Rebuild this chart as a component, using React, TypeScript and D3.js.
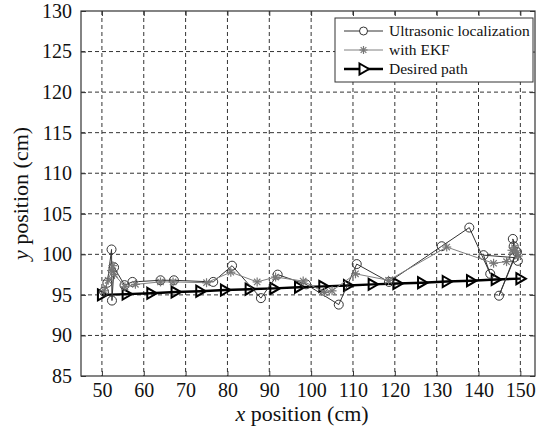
import React, { useEffect, useRef } from 'react';
import * as d3 from 'd3';

// ultrasonic localization measurements (cm)
const usX = [50.5, 51.3, 52.3, 52.4, 52.9, 55.4, 57.3, 64.0, 67.2, 76.6, 81.1, 88.0, 92.0, 98.8, 106.6, 110.9, 118.6, 131.2, 137.8, 142.8, 141.2, 148.5, 144.9, 149.2, 148.2, 148.4, 149.4];
const usY = [95.4, 96.5, 100.6, 94.3, 98.4, 96.2, 96.6, 96.8, 96.8, 96.6, 98.6, 94.6, 97.5, 96.3, 93.8, 98.8, 96.6, 101.0, 103.3, 97.6, 99.9, 99.6, 94.9, 100.3, 101.9, 101.0, 99.2];

// EKF estimates (cm)
const ekfX = [50.5, 51.5, 52.3, 52.6, 53.0, 55.5, 58.0, 64.0, 67.0, 75.0, 80.8, 87.1, 91.5, 98.1, 103.2, 105.0, 110.6, 118.5, 132.4, 143.6, 146.7, 148.0, 148.6, 149.2, 149.5];
const ekfY = [95.5, 96.8, 98.0, 98.6, 97.5, 96.0, 96.3, 96.6, 96.6, 96.5, 97.8, 96.6, 97.2, 96.7, 95.3, 95.5, 97.6, 96.8, 100.9, 98.9, 99.1, 100.5, 100.8, 100.2, 99.8];

// desired path (cm)
const pathX = [50, 55.9, 61.8, 67.6, 73.5, 79.4, 85.3, 91.2, 97.1, 102.9, 108.8, 114.7, 120.6, 126.5, 132.4, 138.2, 144.1, 150];
const pathY = [95.0, 95.1, 95.2, 95.35, 95.45, 95.6, 95.7, 95.8, 95.95, 96.05, 96.15, 96.3, 96.4, 96.5, 96.65, 96.75, 96.9, 97.0];

const xTicks = [50, 60, 70, 80, 90, 100, 110, 120, 130, 140, 150];
const yTicks = [85, 90, 95, 100, 105, 110, 115, 120, 125, 130];

const legendLabels = ['Ultrasonic localization', 'with EKF', 'Desired path'];

const FONT = '"Liberation Serif", "Times New Roman", serif';

const App = () => {
  const svgRef = useRef<SVGSVGElement>(null);

  useEffect(() => {
    const svg = d3.select(svgRef.current);
    svg.selectAll('*').remove();

    const margin = { top: 11, right: 2, bottom: 53, left: 81 };
    const W = 537, H = 429;
    const width = W - margin.left - margin.right;
    const height = H - margin.top - margin.bottom;

    const x = d3.scaleLinear().domain([45, 153.5]).range([0, width]);
    const y = d3.scaleLinear().domain([85, 130]).range([height, 0]);

    const g = svg.append('g').attr('transform', `translate(${margin.left},${margin.top})`);

    // grid
    g.selectAll('.vgrid')
      .data(xTicks)
      .enter()
      .append('line')
      .attr('x1', d => x(d)).attr('x2', d => x(d))
      .attr('y1', 0).attr('y2', height)
      .attr('stroke', '#333').attr('stroke-width', 1)
      .attr('stroke-dasharray', '4,3');
    g.selectAll('.hgrid')
      .data(yTicks.filter(d => d > 85 && d < 130))
      .enter()
      .append('line')
      .attr('x1', 0).attr('x2', width)
      .attr('y1', d => y(d)).attr('y2', d => y(d))
      .attr('stroke', '#333').attr('stroke-width', 1)
      .attr('stroke-dasharray', '4,3');

    // axes (inward ticks on all sides)
    const tickLen = 5;
    g.append('g').attr('transform', `translate(0,${height})`)
      .call(d3.axisBottom(x).tickValues(xTicks).tickSizeInner(-tickLen).tickSizeOuter(0).tickPadding(7))
      .call(a => a.select('.domain').remove());
    g.append('g')
      .call(d3.axisTop(x).tickValues(xTicks).tickSizeInner(-tickLen).tickSizeOuter(0).tickFormat(() => ''))
      .call(a => a.select('.domain').remove());
    g.append('g')
      .call(d3.axisLeft(y).tickValues(yTicks).tickSizeInner(-tickLen).tickSizeOuter(0).tickPadding(9))
      .call(a => a.select('.domain').remove());
    g.append('g').attr('transform', `translate(${width},0)`)
      .call(d3.axisRight(y).tickValues(yTicks).tickSizeInner(-tickLen).tickSizeOuter(0).tickFormat(() => ''))
      .call(a => a.select('.domain').remove());
    g.selectAll('.tick line').attr('stroke', '#333');
    g.selectAll('.tick text')
      .attr('fill', '#111')
      .style('font-family', FONT)
      .style('font-size', '20px');

    // frame
    g.append('rect')
      .attr('x', 0).attr('y', 0).attr('width', width).attr('height', height)
      .attr('fill', 'none').attr('stroke', '#333').attr('stroke-width', 1.2);

    const line = d3.line<[number, number]>().x(d => x(d[0])).y(d => y(d[1]));
    const us = usX.map((v, i) => [v, usY[i]] as [number, number]);
    const ekf = ekfX.map((v, i) => [v, ekfY[i]] as [number, number]);
    const path = pathX.map((v, i) => [v, pathY[i]] as [number, number]);

    const star = (sel, cx, cy, r) => {
      for (let k = 0; k < 4; k++) {
        const a = (k * Math.PI) / 4;
        sel.append('line')
          .attr('x1', cx - r * Math.cos(a)).attr('y1', cy - r * Math.sin(a))
          .attr('x2', cx + r * Math.cos(a)).attr('y2', cy + r * Math.sin(a))
          .attr('stroke', '#777').attr('stroke-width', 1.2);
      }
    };
    const triPath = (cx, cy) => `M${cx - 4},${cy - 5.5}L${cx + 5.5},${cy}L${cx - 4},${cy + 5.5}Z`;

    // desired path
    g.append('path').datum(path).attr('d', line)
      .attr('fill', 'none').attr('stroke', '#000').attr('stroke-width', 2.4);
    g.selectAll('.tri').data(path).enter().append('path')
      .attr('d', d => triPath(x(d[0]), y(d[1])))
      .attr('fill', 'none').attr('stroke', '#000').attr('stroke-width', 2);

    // ultrasonic
    g.append('path').datum(us).attr('d', line)
      .attr('fill', 'none').attr('stroke', '#333').attr('stroke-width', 1);
    g.selectAll('.circ').data(us).enter().append('circle')
      .attr('cx', d => x(d[0])).attr('cy', d => y(d[1])).attr('r', 4.5)
      .attr('fill', 'none').attr('stroke', '#333').attr('stroke-width', 1);

    // EKF
    g.append('path').datum(ekf).attr('d', line)
      .attr('fill', 'none').attr('stroke', '#808080').attr('stroke-width', 1);
    const sg = g.append('g');
    ekf.forEach(d => star(sg, x(d[0]), y(d[1]), 4.5));

    // legend
    const lg = svg.append('g').attr('transform', 'translate(335,18)');
    lg.append('rect').attr('width', 198).attr('height', 64)
      .attr('fill', '#fff').attr('stroke', '#333').attr('stroke-width', 1);
    const rows = [13, 32, 51];
    legendLabels.forEach((t, i) => {
      const ry = rows[i];
      const color = i === 0 ? '#333' : i === 1 ? '#808080' : '#000';
      lg.append('line').attr('x1', 9).attr('x2', 48).attr('y1', ry).attr('y2', ry)
        .attr('stroke', color).attr('stroke-width', i === 2 ? 2.4 : 1);
      if (i === 0) {
        lg.append('circle').attr('cx', 28.5).attr('cy', ry).attr('r', 4)
          .attr('fill', '#fff').attr('stroke', '#333');
      } else if (i === 1) {
        star(lg, 28.5, ry, 4);
      } else {
        lg.append('path').attr('d', triPath(28.5, ry))
          .attr('fill', '#fff').attr('stroke', '#000').attr('stroke-width', 2);
      }
      lg.append('text').attr('x', 54).attr('y', ry + 5)
        .style('font-family', FONT).style('font-size', '15.5px').attr('fill', '#111')
        .text(t);
    });

    // axis titles
    const xt = svg.append('text')
      .attr('x', 302).attr('y', 421)
      .attr('text-anchor', 'middle')
      .style('font-family', FONT).style('font-size', '22px').attr('fill', '#111');
    xt.append('tspan').style('font-style', 'italic').text('x');
    xt.append('tspan').text(' position (cm)');

    const yt = svg.append('text')
      .attr('transform', `translate(28,${margin.top + height / 2}) rotate(-90)`)
      .attr('text-anchor', 'middle')
      .style('font-family', FONT).style('font-size', '22px').attr('fill', '#111');
    yt.append('tspan').style('font-style', 'italic').text('y');
    yt.append('tspan').text(' position (cm)');
  }, []);

  return (
    <svg
      ref={svgRef}
      width={537}
      height={429}
      style={{ position: 'absolute', left: 0, top: 0, background: '#fff' }}
    />
  );
};

export default App;
